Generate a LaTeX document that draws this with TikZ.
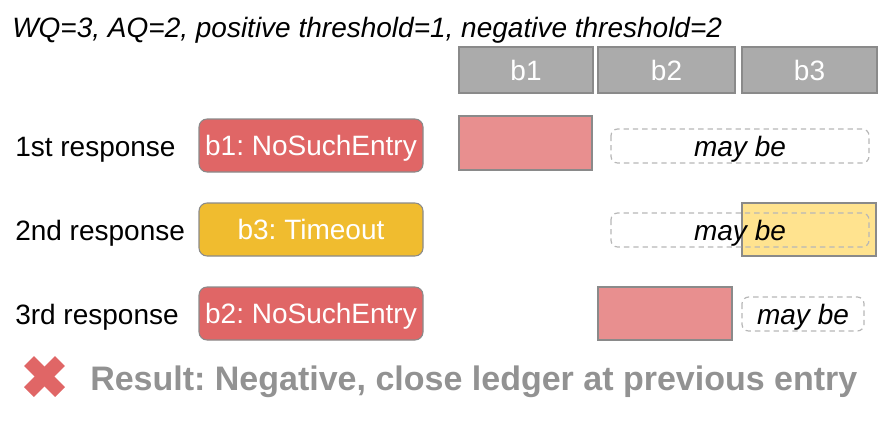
\documentclass[tikz,border=0pt]{standalone}
\usepackage{fontspec}
\setmainfont{Liberation Sans}
\frenchspacing
\definecolor{redbox}{HTML}{E06666}
\definecolor{pinkbox}{HTML}{E88F8F}
\definecolor{yelbox}{HTML}{F0BC2F}
\definecolor{lyelbox}{HTML}{FFE38F}
\definecolor{greybox}{HTML}{ABABAB}
\definecolor{edgegrey}{HTML}{8A8A8A}
\definecolor{dashgrey}{HTML}{B7B7B7}
\definecolor{restext}{HTML}{929292}
\tikzset{
  txt/.style={inner sep=0pt, text height=15pt, text depth=0pt, font=\fontsize{21}{25}\selectfont},
  hdr/.style={draw=edgegrey, fill=greybox, line width=0.8pt},
  resp/.style={draw=edgegrey, line width=0.8pt, rounded corners=6pt},
  blk/.style={draw=edgegrey, line width=0.8pt},
  maybe/.style={draw=dashgrey, dashed, dash pattern=on 4pt off 3pt, line width=0.9pt, rounded corners=5pt},
  xarm/.style={draw=redbox, line width=10.5pt, line cap=butt},
}
\begin{document}
\begin{tikzpicture}[x=0.75pt,y=-0.75pt]
\useasboundingbox (0,0) rectangle (887,428);
% title
\node[txt, anchor=west] (title) at (12,28) {\itshape WQ=3, AQ=2, positive threshold=1, negative threshold=2};
% header boxes
\draw[hdr] (459,47) rectangle (593,93);
\draw[hdr] (598,47) rectangle (735,93);
\draw[hdr] (742,47) rectangle (877,93);
\node[txt, text=white] (h1) at (526,70) {b1};
\node[txt, text=white] (h2) at (666.5,70) {b2};
\node[txt, text=white] (h3) at (809.5,70) {b3};
% row labels
\node[txt, anchor=west] (l1) at (15,146) {1st response};
\node[txt, anchor=west] (l2) at (15,230) {2nd response};
\node[txt, anchor=west] (l3) at (15,314) {3rd response};
% response boxes
\draw[resp, fill=redbox] (199,119) rectangle (423,172);
\node[txt, text=white] (r1) at (311,145.5) {b1: NoSuchEntry};
\draw[resp, fill=yelbox] (199,203) rectangle (423,256);
\node[txt, text=white] (r2) at (311,229.5) {b3: Timeout};
\draw[resp, fill=redbox] (199,287) rectangle (423,340);
\node[txt, text=white] (r3) at (311,313.5) {b2: NoSuchEntry};
% row 1 blocks
\draw[blk, fill=pinkbox] (459,116) rectangle (592,170);
\draw[maybe] (611,129) rectangle (869,163);
\node[txt] (m1) at (740,146) {\itshape may be};
% row 2 blocks
\draw[blk, fill=lyelbox] (742,203) rectangle (876,256);
\draw[maybe] (611,213) rectangle (869,247);
\node[txt] (m2) at (740,230) {\itshape may be};
% row 3 blocks
\draw[blk, fill=pinkbox] (598,287) rectangle (732,340);
\draw[maybe] (742,297) rectangle (864,331);
\node[txt] (m3) at (803,314) {\itshape may be};
% result
\draw[xarm] (29,361) -- (60,392);
\draw[xarm] (60,361) -- (29,392);
\node[txt, anchor=west, text height=18.3pt, font=\fontsize{25.5}{30}\selectfont\bfseries, text=restext] (res) at (90,378) {Result: Negative, close ledger at previous entry};
\end{tikzpicture}
\end{document}
